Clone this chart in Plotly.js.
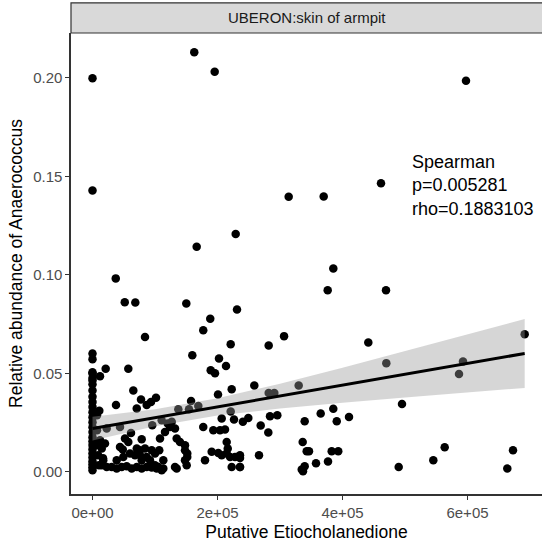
<!DOCTYPE html>
<html>
<head>
<meta charset="utf-8">
<script src="https://cdn.plot.ly/plotly-3.0.1.min.js"></script>
<style>html,body{margin:0;padding:0;background:#fff;overflow:hidden}#chart{width:542px;height:552px}</style>
</head>
<body>
<div id="chart"></div>
<script>
// Putative Etiocholanedione (x) and relative abundance of Anaerococcus (y)
const etiocholanedione = [
  0,162800,195500,0,313900,597600,461600,369900,229100,166700,
  37200,51600,68500,150100,231200,188400,177200,84000,221100,281900,
  306500,0,0,159700,202400,213600,21100,57300,189100,385300,
  376300,469600,441300,470100,592800,691500,196000,0,0,12000,
  586400,65300,0,222700,258900,329900,281900,290900,200800,77600,
  101600,93600,86700,70800,37600,0,0,0,10900,157700,
  137300,154400,169300,221100,495200,385300,284000,295700,206700,226400,
  249300,365100,410400,390800,339500,336300,342700,346400,382700,393200,
  339500,334800,357600,376800,489900,545300,563500,663700,672800,240600,
  269100,281300,266400,236000,236000,336800,22700,44000,61600,95600,
  110700,120300,126800,124000,132000,116000,108000,78700,52000,57300,
  44000,48400,20000,14800,70800,76000,84000,94700,60000,68000,
  78700,86700,49300,38700,17200,14800,22700,30700,38700,46700,
  54700,62700,70800,78700,86700,94700,78700,92000,100000,102700,
  110700,113300,106800,193300,204000,212000,177200,134700,140000,148000,
  148000,151600,151600,148000,150700,214700,216400,214700,220100,190700,
  201300,206700,180000,228000,236000,222700,236000,113300,105300,134700,
  132000,100000,
  0,0,0,0,0,0,0,0,0,0,0,0,0,0,0,0,0,0,
  7200,7200,8900,8900,10400,12000,16800
];
const anaerococcus = [
  0.1997,0.2129,0.2030,0.1428,0.1396,0.1985,0.1465,0.1398,0.1207,0.1142,
  0.0982,0.0861,0.0860,0.0855,0.0824,0.0777,0.0719,0.0684,0.0648,0.0642,
  0.0689,0.0601,0.0572,0.0592,0.0576,0.0537,0.0523,0.0523,0.0516,0.1032,
  0.0922,0.0922,0.0657,0.0552,0.0560,0.0699,0.0501,0.0500,0.0465,0.0486,
  0.0497,0.0413,0.0413,0.0420,0.0439,0.0439,0.0401,0.0401,0.0393,0.0368,
  0.0376,0.0355,0.0339,0.0322,0.0339,0.0381,0.0355,0.0330,0.0310,0.0360,
  0.0318,0.0318,0.0335,0.0307,0.0345,0.0320,0.0283,0.0288,0.0271,0.0266,
  0.0274,0.0296,0.0279,0.0257,0.0257,0.0152,0.0105,0.0105,0.0105,0.0105,
  0.0029,0.0012,0.0044,0.0053,0.0025,0.0059,0.0125,0.0017,0.0110,0.0254,
  0.0236,0.0200,0.0085,0.0085,0.0025,0.0004,0.0220,0.0228,0.0198,0.0237,
  0.0262,0.0246,0.0254,0.0228,0.0220,0.0203,0.0170,0.0166,0.0170,0.0152,
  0.0127,0.0114,0.0144,0.0119,0.0119,0.0110,0.0119,0.0110,0.0093,0.0085,
  0.0076,0.0076,0.0076,0.0059,0.0059,0.0034,0.0025,0.0025,0.0017,0.0025,
  0.0029,0.0017,0.0025,0.0017,0.0025,0.0022,0.0059,0.0059,0.0034,0.0017,
  0.0009,0.0059,0.0110,0.0212,0.0212,0.0215,0.0228,0.0170,0.0152,0.0135,
  0.0110,0.0093,0.0076,0.0059,0.0034,0.0152,0.0119,0.0093,0.0076,0.0102,
  0.0096,0.0085,0.0059,0.0076,0.0071,0.0025,0.0025,0.0017,0.0025,0.0017,
  0.0025,0.0093,
  0.0506,0.0476,0.0445,0.0303,0.0278,0.0252,0.0227,0.0202,0.0176,0.0156,0.0136,0.0115,0.0095,0.0075,0.0054,0.0039,0.0024,0.0009,
  0.0288,0.0212,0.0136,0.0085,0.0034,0.0161,0.0070
];

// Linear fit and its 95% band
const fitX     = [0, 100000, 200000, 300000, 400000, 500000, 600000, 691500];
const fitY     = [0.0220, 0.0275, 0.0330, 0.0385, 0.0440, 0.0496, 0.0551, 0.0601];
const fitLower = [0.0160, 0.0232, 0.0286, 0.0322, 0.0351, 0.0378, 0.0404, 0.0426];
const fitUpper = [0.0280, 0.0318, 0.0374, 0.0448, 0.0529, 0.0614, 0.0698, 0.0776];

const xTickVals = [0, 200000, 400000, 600000];
const xTickText = ['0e+00', '2e+05', '4e+05', '6e+05'];
const yTickVals = [0, 0.05, 0.10, 0.15, 0.20];
const yTickText = ['0.00', '0.05', '0.10', '0.15', '0.20'];

const stripLabel = 'UBERON:skin of armpit';
const statLines = ['Spearman', 'p=0.005281', 'rho=0.1883103'];

const FONT = 'Liberation Sans, Arial, Helvetica, sans-serif';

const points = {
  type: 'scatter', mode: 'markers',
  x: etiocholanedione, y: anaerococcus,
  marker: {color: '#000000', size: 8.5, line: {width: 0}},
  hoverinfo: 'skip', showlegend: false
};
const band = {
  type: 'scatter', mode: 'lines',
  x: fitX.concat(fitX.slice().reverse()),
  y: fitUpper.concat(fitLower.slice().reverse()),
  fill: 'toself', fillcolor: 'rgba(153,153,153,0.4)',
  line: {width: 0, color: 'rgba(0,0,0,0)'},
  hoverinfo: 'skip', showlegend: false
};
const fitLine = {
  type: 'scatter', mode: 'lines',
  x: fitX, y: fitY,
  line: {color: '#000000', width: 3},
  hoverinfo: 'skip', showlegend: false
};

const annotations = [{
  xref: 'x', yref: 'y', x: 507500, y: 0.1452,
  text: statLines.join('<br>'), showarrow: false,
  xanchor: 'left', yanchor: 'middle', align: 'left',
  font: {family: FONT, size: 18, color: '#000000'}
}, {
  xref: 'paper', yref: 'paper', x: 0.5, y: 1.034,
  text: stripLabel, showarrow: false, xanchor: 'center', yanchor: 'middle',
  font: {family: FONT, size: 15, color: '#1a1a1a'}
}];

const layout = {
  width: 542, height: 552,
  margin: {l: 71, r: 0, t: 33, b: 58, pad: 0},
  paper_bgcolor: '#ffffff', plot_bgcolor: '#ffffff',
  font: {family: FONT},
  xaxis: {
    range: [-34400, 719200], tickvals: xTickVals, ticktext: xTickText,
    ticks: 'outside', ticklen: 4, tickwidth: 1.1, tickcolor: '#333333',
    showline: true, linecolor: '#333333', linewidth: 1.6,
    showgrid: false, zeroline: false,
    tickfont: {family: FONT, size: 15, color: '#4d4d4d'},
    title: {text: 'Putative Etiocholanedione', font: {family: FONT, size: 17.5, color: '#000000'}, standoff: 6},
    automargin: false, fixedrange: true
  },
  yaxis: {
    range: [-0.0112, 0.2227], tickvals: yTickVals, ticktext: yTickText,
    ticks: 'outside', ticklen: 4, tickwidth: 1.1, tickcolor: '#333333',
    showline: true, linecolor: '#333333', linewidth: 1.6,
    showgrid: false, zeroline: false,
    tickfont: {family: FONT, size: 15, color: '#4d4d4d'},
    title: {text: 'Relative abundance of Anaerococcus', font: {family: FONT, size: 17.5, color: '#000000'}, standoff: 6},
    automargin: false, fixedrange: true
  },
  shapes: [{
    type: 'rect', xref: 'paper', yref: 'paper',
    x0: 0, x1: 1.05, y0: 1.0, y1: 1.0655,
    fillcolor: '#d9d9d9', line: {color: '#333333', width: 1.2}, layer: 'above'
  }],
  annotations: annotations,
  showlegend: false
};

Plotly.newPlot('chart', [points, band, fitLine], layout, {displayModeBar: false, staticPlot: true});
</script>
</body>
</html>
